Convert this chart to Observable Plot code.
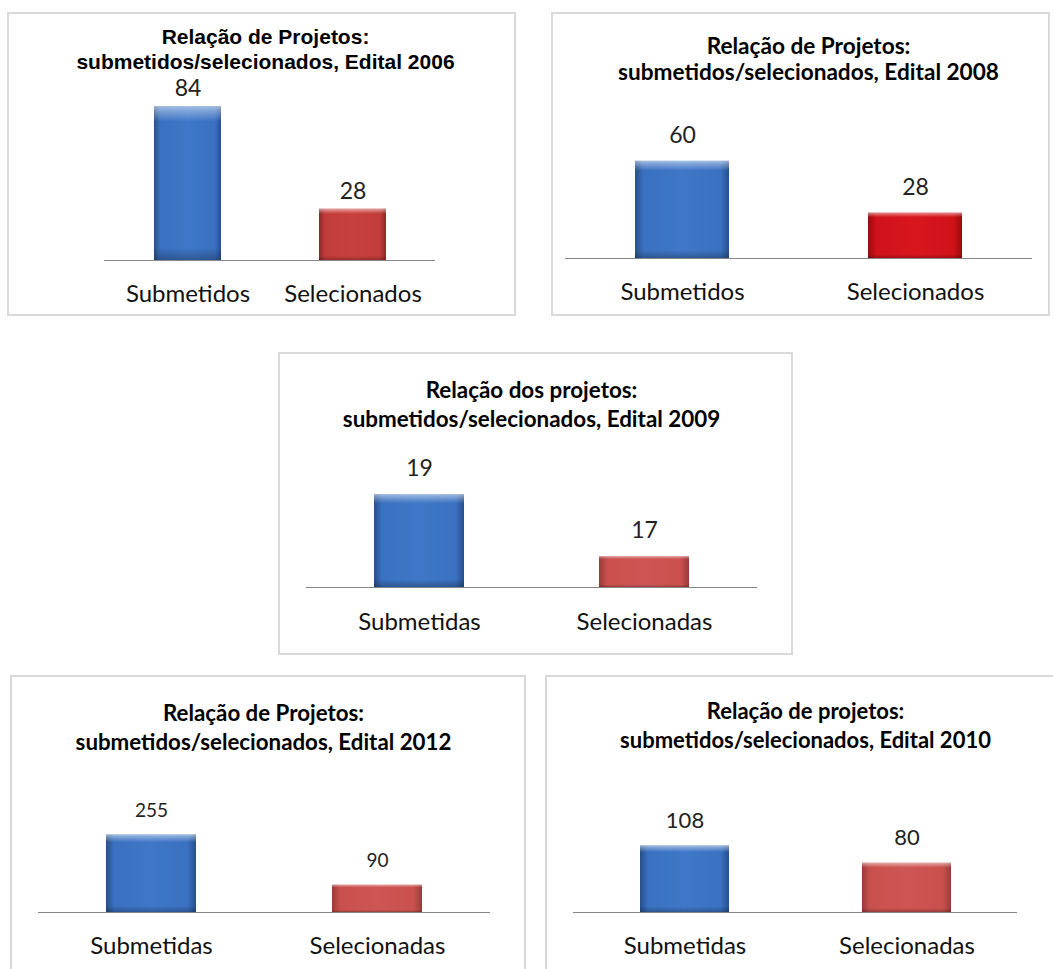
<!DOCTYPE html>
<html>
<head>
<meta charset="utf-8">
<script src="https://cdn.jsdelivr.net/npm/d3@7"></script>
<script src="https://cdn.jsdelivr.net/npm/@observablehq/plot@0.6"></script>
<style>
  html, body { margin: 0; padding: 0; background: #fff; }
  #root { position: relative; width: 1053px; height: 969px; overflow: hidden; background: #fff; }
  .box { position: absolute; border: 2px solid #d9d9d9; box-sizing: border-box; }
  .chart { position: absolute; }
  .chart svg { overflow: visible; }
</style>
</head>
<body>
<svg width="0" height="0" style="position:absolute">
  <defs>
    <linearGradient id="blueH" x1="0" x2="1" y1="0" y2="0">
      <stop offset="0" stop-color="#284f8c"/>
      <stop offset="0.09" stop-color="#3a71c0"/>
      <stop offset="0.5" stop-color="#3f78c8"/>
      <stop offset="0.91" stop-color="#3a71c0"/>
      <stop offset="1" stop-color="#284f8c"/>
    </linearGradient>
    <linearGradient id="redH" x1="0" x2="1" y1="0" y2="0">
      <stop offset="0" stop-color="#8a2826"/>
      <stop offset="0.09" stop-color="#c23c3a"/>
      <stop offset="0.5" stop-color="#c8403d"/>
      <stop offset="0.91" stop-color="#c23c3a"/>
      <stop offset="1" stop-color="#8a2826"/>
    </linearGradient>
    <linearGradient id="brightH" x1="0" x2="1" y1="0" y2="0">
      <stop offset="0" stop-color="#960b0f"/>
      <stop offset="0.09" stop-color="#d0121a"/>
      <stop offset="0.5" stop-color="#d8161e"/>
      <stop offset="0.91" stop-color="#d0121a"/>
      <stop offset="1" stop-color="#960b0f"/>
    </linearGradient>
    <linearGradient id="softH" x1="0" x2="1" y1="0" y2="0">
      <stop offset="0" stop-color="#9a3a38"/>
      <stop offset="0.09" stop-color="#c9504d"/>
      <stop offset="0.5" stop-color="#cd5553"/>
      <stop offset="0.91" stop-color="#c9504d"/>
      <stop offset="1" stop-color="#9a3a38"/>
    </linearGradient>
    <linearGradient id="bevelV" x1="0" x2="0" y1="0" y2="1">
      <stop offset="0" stop-color="#ffffff" stop-opacity="0.55"/>
      <stop offset="0.03" stop-color="#ffffff" stop-opacity="0.35"/>
      <stop offset="0.1" stop-color="#ffffff" stop-opacity="0"/>
      <stop offset="0.92" stop-color="#000000" stop-opacity="0"/>
      <stop offset="1" stop-color="#000000" stop-opacity="0.25"/>
    </linearGradient>
  </defs>
</svg>
<div id="root"></div>
<script>
// ---------- data ----------
const title2006 = ["Relação de Projetos:", "submetidos/selecionados, Edital 2006"];
const cats2006 = ["Submetidos", "Selecionados"];
const values2006 = [84, 28];

const title2008 = ["Relação de Projetos:", "submetidos/selecionados, Edital 2008"];
const cats2008 = ["Submetidos", "Selecionados"];
const values2008 = [60, 28];

const title2009 = ["Relação dos projetos:", "submetidos/selecionados, Edital 2009"];
const cats2009 = ["Submetidas", "Selecionadas"];
const values2009 = [19, 17];
const axisMin2009 = 16;

const title2012 = ["Relação de Projetos:", "submetidos/selecionados, Edital 2012"];
const cats2012 = ["Submetidas", "Selecionadas"];
const values2012 = [255, 90];

const title2010 = ["Relação de projetos:", "submetidos/selecionados, Edital 2010"];
const cats2010 = ["Submetidas", "Selecionadas"];
const values2010 = [108, 80];

// ---------- layout / style ----------
const panels = [
  {title: title2006, cats: cats2006, values: values2006, yMin: 0, yMax: 90,
   box: [7, 12, 509, 304], plot: [104, 435, 95, 260], pad: 0.595, red: "redH",
   titleFont: "'Liberation Sans', Arial, sans-serif", titleSize: 21, titleX: 265, titleY: [37, 62],
   valueSize: 23, valueOff: 18, catSize: 24, catY: 294},
  {title: title2008, cats: cats2008, values: values2008, yMin: 0, yMax: 70,
   box: [551, 12, 499, 304], plot: [565, 1032, 144.6, 258], pad: 0.595, red: "brightH",
   titleFont: "Lato, sans-serif", titleSize: 22.6, titleX: 808, titleY: [46, 72],
   valueSize: 23, valueOff: 26, catSize: 24, catY: 292},
  {title: title2009, cats: cats2009, values: values2009, yMin: axisMin2009, yMax: 20,
   box: [278, 352, 515, 303], plot: [306, 757, 463, 587], pad: 0.6, red: "softH",
   titleFont: "Lato, sans-serif", titleSize: 22.4, titleX: 531, titleY: [390, 419],
   valueSize: 23, valueOff: 26, catSize: 24, catY: 622},
  {title: title2012, cats: cats2012, values: values2012, yMin: 0, yMax: 300,
   box: [10, 675, 516, 310], plot: [38, 490, 820.8, 912], pad: 0.6, red: "softH",
   titleFont: "Lato, sans-serif", titleSize: 22.3, titleX: 263, titleY: [713, 742],
   valueSize: 19, valueOff: 24, catSize: 24, catY: 946},
  {title: title2010, cats: cats2010, values: values2010, yMin: 0, yMax: 120,
   box: [545, 675, 520, 310], plot: [573, 1017, 838, 912], pad: 0.6, red: "softH",
   titleFont: "Lato, sans-serif", titleSize: 22, titleX: 805, titleY: [711, 740],
   valueSize: 22, valueOff: 25, catSize: 24, catY: 946}
];

const root = document.getElementById("root");

for (const p of panels) {
  const [bx, by, bw, bh] = p.box;
  const [x0, x1, yTop, yBase] = p.plot;

  const border = document.createElement("div");
  border.className = "box";
  Object.assign(border.style, {left: bx + "px", top: by + "px", width: bw + "px", height: bh + "px"});
  root.appendChild(border);

  const data = p.cats.map((c, i) => ({cat: c, value: p.values[i]}));
  const W = bw, H = bh;
  const plotCenter = (x0 + x1) / 2;

  const titleMarks = p.title.map((line, k) =>
    Plot.text([line], {
      text: d => d,
      frameAnchor: "top",
      dx: p.titleX - plotCenter,
      dy: p.titleY[k] - yTop,
      lineAnchor: "middle",
      fontSize: p.titleSize,
      fontWeight: "bold",
      fontFamily: p.titleFont,
      fill: "#000"
    })
  );

  const chart = Plot.plot({
    width: W,
    height: H,
    marginLeft: x0 - bx,
    marginRight: bx + W - x1,
    marginTop: yTop - by,
    marginBottom: by + H - yBase,
    style: {fontFamily: "Lato, sans-serif", background: "transparent", overflow: "visible"},
    x: {domain: p.cats, paddingInner: p.pad, paddingOuter: p.pad / 2, label: null},
    y: {domain: [p.yMin, p.yMax], axis: null},
    marks: [
      Plot.barY(data, {filter: d => d.cat === p.cats[0], x: "cat", y1: p.yMin, y2: "value", fill: "url(#blueH)"}),
      Plot.barY(data, {filter: d => d.cat === p.cats[1], x: "cat", y1: p.yMin, y2: "value", fill: "url(#" + p.red + ")"}),
      Plot.barY(data, {x: "cat", y1: p.yMin, y2: "value", fill: "url(#bevelV)"}),
      Plot.ruleY([p.yMin], {stroke: "#868686", strokeWidth: 1.2}),
      Plot.text(data, {x: "cat", y: "value", text: d => String(d.value), dy: -p.valueOff,
        lineAnchor: "middle", fontSize: p.valueSize, fill: "#222"}),
      Plot.axisX({tickSize: 0, tickPadding: 0, fontSize: p.catSize, fill: "#111",
        dy: p.catY - yBase, lineAnchor: "middle", label: null}),
      ...titleMarks
    ]
  });
  chart.classList.add("chart");
  chart.style.left = bx + "px";
  chart.style.top = by + "px";
  root.appendChild(chart);
}
</script>
</body>
</html>
